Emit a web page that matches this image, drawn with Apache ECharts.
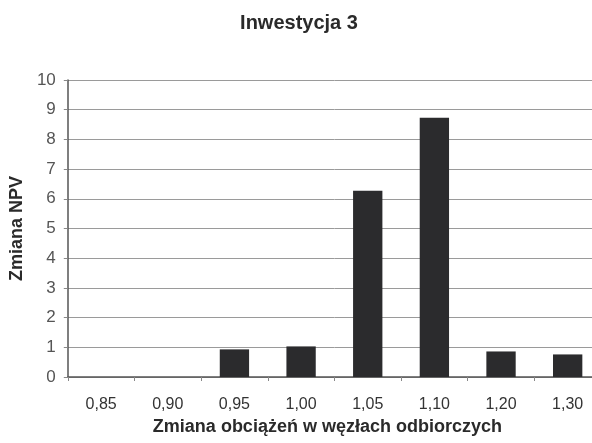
<!DOCTYPE html>
<html>
<head>
<meta charset="utf-8">
<script src="https://cdn.jsdelivr.net/npm/echarts@6/dist/echarts.min.js"></script>
<style>
  html, body { margin: 0; padding: 0; background: #fff; overflow: hidden; }
  /* the plot runs slightly past the right edge of the page */
  #chart { width: 601px; height: 443px; }
</style>
</head>
<body>
<div id="chart"></div>
<script>
// Load-change categories and the resulting NPV change
const categories = ['0,85', '0,90', '0,95', '1,00', '1,05', '1,10', '1,20', '1,30'];
const npvChange = [0, 0, 0.93, 1.03, 6.27, 8.73, 0.86, 0.76];
const yTicks = { min: 0, max: 10, step: 1 };

const FONT = '"Liberation Sans", Arial, sans-serif';
const chart = echarts.init(document.getElementById('chart'), null, { renderer: 'canvas' });

chart.setOption({
  backgroundColor: '#ffffff',
  animation: false,
  title: {
    text: 'Inwestycja 3',
    left: 294,
    top: 8,
    textAlign: 'center',
    textStyle: { fontFamily: FONT, fontSize: 20, fontWeight: 'bold', color: '#2a2a2a' }
  },
  grid: { left: 64, right: 0, top: 80, bottom: 66, containLabel: false },
  xAxis: {
    type: 'category',
    data: categories,
    name: 'Zmiana obciążeń w węzłach odbiorczych',
    nameLocation: 'middle',
    nameGap: 39,
    nameTextStyle: { fontFamily: FONT, fontSize: 18, fontWeight: 'bold', color: '#2a2a2a', padding: [0, 14, 0, 0] },
    axisLine: { lineStyle: { color: '#555', width: 1.5 } },
    axisTick: { show: true, alignWithLabel: false, length: 4, lineStyle: { color: '#888' } },
    axisLabel: { fontFamily: FONT, fontSize: 16, color: '#333', margin: 20 }
  },
  yAxis: {
    type: 'value',
    min: yTicks.min,
    max: yTicks.max,
    interval: yTicks.step,
    name: 'Zmiana NPV',
    nameLocation: 'middle',
    nameGap: 41,
    nameRotate: 90,
    nameTextStyle: { fontFamily: FONT, fontSize: 18, fontWeight: 'bold', color: '#2a2a2a' },
    axisLine: { show: true, lineStyle: { color: '#555', width: 1.5 } },
    axisTick: { show: true, length: 4, lineStyle: { color: '#888' } },
    axisLabel: { fontFamily: FONT, fontSize: 17, color: '#555', margin: 12 },
    splitLine: { show: true, lineStyle: { color: '#9a9a9a', width: 1 } }
  },
  series: [{
    type: 'bar',
    data: npvChange,
    barWidth: '44%',
    itemStyle: { color: '#2b2b2d' }
  }]
});
</script>
</body>
</html>
